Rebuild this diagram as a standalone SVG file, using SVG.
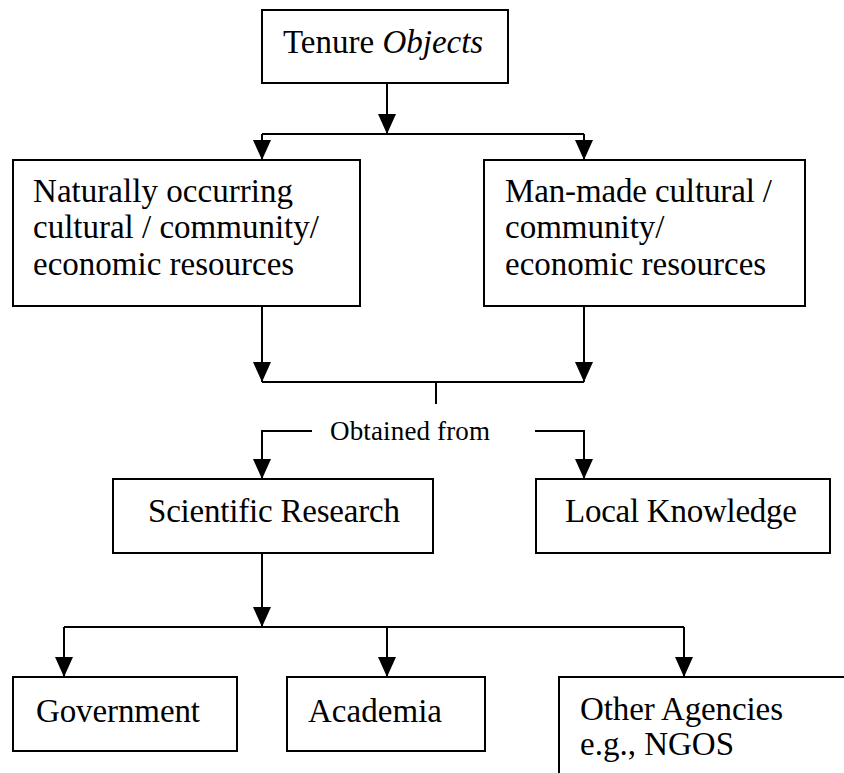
<svg xmlns="http://www.w3.org/2000/svg" width="844" height="773" viewBox="0 0 844 773">
  <style>
    .box { fill: #ffffff; stroke: #000000; stroke-width: 2; }
    .lbl { font-family: "Liberation Serif", "Times New Roman", serif; font-size: 33px; fill: #000000; }
    .small { font-size: 27px; }
    .wire { fill: none; stroke: #000000; stroke-width: 2; }
    .arrow { fill: none; stroke: #000000; stroke-width: 2; marker-end: url(#tip); }
  </style>
  <defs>
    <marker id="tip" markerUnits="userSpaceOnUse" viewBox="0 -10 20 20" refX="20" refY="0" markerWidth="20" markerHeight="20" orient="auto">
      <path d="M0,-9 L20,0 L0,9 Z" fill="#000000"/>
    </marker>
  </defs>
  <rect width="844" height="773" fill="#ffffff"/>

  <g id="connectors">
    <!-- top box to the two resource boxes -->
    <line class="arrow" x1="387" y1="83" x2="387" y2="134"/>
    <line class="wire" x1="262" y1="134" x2="584" y2="134"/>
    <line class="arrow" x1="262" y1="134" x2="262" y2="160"/>
    <line class="arrow" x1="584" y1="134" x2="584" y2="160"/>
    <!-- resource boxes merge -->
    <line class="arrow" x1="262" y1="306" x2="262" y2="382"/>
    <line class="arrow" x1="584" y1="306" x2="584" y2="382"/>
    <line class="wire" x1="262" y1="382" x2="584" y2="382"/>
    <line class="wire" x1="436" y1="382" x2="436" y2="404"/>
    <!-- obtained from -->
    <polyline class="arrow" points="312,431 262,431 262,479"/>
    <polyline class="arrow" points="535,431 584,431 584,479"/>
    <!-- scientific research sources -->
    <line class="arrow" x1="262" y1="553" x2="262" y2="627"/>
    <line class="wire" x1="64" y1="627" x2="684" y2="627"/>
    <line class="arrow" x1="64" y1="627" x2="64" y2="677"/>
    <line class="arrow" x1="387" y1="627" x2="387" y2="677"/>
    <line class="arrow" x1="684" y1="627" x2="684" y2="677"/>
    <text class="lbl small" x="330" y="440" textLength="160" lengthAdjust="spacing">Obtained from</text>
  </g>

  <g id="tenure-objects">
    <rect class="box" x="262" y="10" width="246" height="73"/>
    <text class="lbl" x="283" y="53">Tenure <tspan font-style="italic">Objects</tspan></text>
  </g>

  <g id="natural-resources">
    <rect class="box" x="13" y="160" width="347" height="146"/>
    <text class="lbl" x="33" y="202" textLength="260" lengthAdjust="spacing">Naturally occurring</text>
    <text class="lbl" x="33" y="238">cultural / community/</text>
    <text class="lbl" x="33" y="275">economic resources</text>
  </g>

  <g id="man-made-resources">
    <rect class="box" x="484" y="160" width="321" height="146"/>
    <text class="lbl" x="505" y="202" textLength="267" lengthAdjust="spacing">Man-made cultural /</text>
    <text class="lbl" x="505" y="238">community/</text>
    <text class="lbl" x="505" y="275">economic resources</text>
  </g>

  <g id="scientific-research">
    <rect class="box" x="113" y="479" width="320" height="74"/>
    <text class="lbl" x="148" y="522" textLength="252" lengthAdjust="spacing">Scientific Research</text>
  </g>

  <g id="local-knowledge">
    <rect class="box" x="536" y="479" width="294" height="74"/>
    <text class="lbl" x="565" y="522" textLength="232" lengthAdjust="spacing">Local Knowledge</text>
  </g>

  <g id="government">
    <rect class="box" x="13" y="677" width="224" height="74"/>
    <text class="lbl" x="36" y="722" textLength="164" lengthAdjust="spacing">Government</text>
  </g>

  <g id="academia">
    <rect class="box" x="287" y="677" width="198" height="74"/>
    <text class="lbl" x="308" y="722" textLength="134" lengthAdjust="spacing">Academia</text>
  </g>

  <g id="other-agencies">
    <rect class="box" x="559" y="677" width="300" height="120"/>
    <text class="lbl" x="580" y="720" textLength="203" lengthAdjust="spacing">Other Agencies</text>
    <text class="lbl" x="580" y="755">e.g., NGOS</text>
  </g>
</svg>
